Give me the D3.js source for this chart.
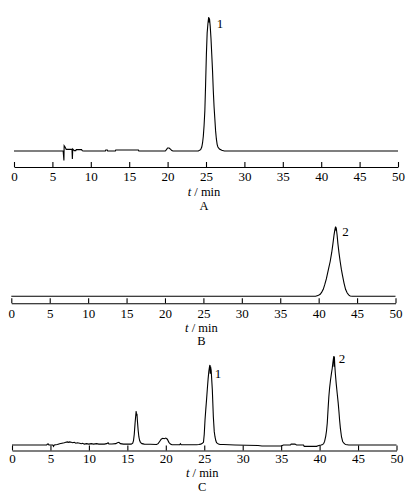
<!DOCTYPE html>
<html>
<head>
<meta charset="utf-8">
<script src="https://cdn.jsdelivr.net/npm/d3@7/dist/d3.min.js"></script>
<style>
  html, body { margin: 0; padding: 0; background: #fff; }
  svg { display: block; }
</style>
</head>
<body>
<svg id="chart" width="408" height="503"></svg>
<script>
// ---------------- DATA ----------------
const xTicks = [0, 5, 10, 15, 20, 25, 30, 35, 40, 45, 50];
const axisTitleItalic = "t";
const axisTitleRest = " / min";
const panelNames = ["A", "B", "C"];

// Chromatogram A (relative response, main peak = 100)
const timeA = [0, 6.4, 6.5, 6.53, 6.65, 6.8, 7.1, 7.55, 7.6, 7.65, 7.85, 8.05, 8.1, 8.8, 8.9, 9.1,
  11.9, 11.95, 12.15, 12.2, 13.2, 13.25, 16.2, 16.25, 19.7, 19.85, 20.0, 20.2, 20.4, 20.55, 20.7,
  24.0, 24.3, 24.45, 24.55, 24.65, 24.75, 24.85, 24.95, 25.05, 25.15, 25.25, 25.35, 25.4, 25.45,
  25.55, 25.65, 25.75, 25.85, 25.95, 26.05, 26.15, 26.25, 26.35, 26.45, 26.55, 26.75, 27.05, 27.4, 50];
const signalA = [0, 0, -7, 4, 3, 1.2, 1.2, 1.2, -6, 1.5, 0.3, 0.3, 1, 1, 0.2, 0,
  0, 0.7, 0.7, 0, 0, 0.7, 0.7, 0, 0, 1, 2.2, 2.2, 1.2, 0.3, 0,
  0, 1, 3, 6, 11, 19, 30, 50, 72, 88, 95, 100, 96, 99,
  93, 84, 72, 60, 45, 33, 24, 15, 9, 5, 3, 1.5, 0.5, 0, 0];

// Chromatogram B
const timeB = [0, 39.6, 39.9, 40.2, 40.4, 40.6, 40.8, 41.0, 41.1, 41.3, 41.5, 41.7, 41.85, 42.0, 42.1,
  42.2, 42.25, 42.3, 42.4, 42.5, 42.65, 42.8, 42.95, 43.1, 43.3, 43.5, 43.7, 43.9, 44.1, 44.4, 50];
const signalB = [0, 0, 1, 3, 6, 10, 17, 25, 30, 40, 50, 63, 75, 88, 95,
  100, 96, 97, 88, 76, 62, 50, 39, 30, 19, 10, 5, 2, 0.5, 0, 0];

// Chromatogram C
const timeC = [0, 4.5, 4.6, 4.75, 4.8, 5.3, 5.4, 5.5, 5.9, 6.2, 6.5, 6.8, 7.0, 7.2, 7.35, 7.5, 7.7, 7.9,
  8.1, 8.3, 8.5, 8.8, 9.0, 9.2, 9.4, 9.7, 10.0, 10.3, 10.6, 11.0, 11.3, 11.7, 12.0, 12.3, 12.5, 12.6,
  13.0, 13.5, 13.7, 13.9, 14.1, 14.5, 15.0, 15.5, 15.7, 15.8, 15.9, 16.0, 16.1, 16.15, 16.2, 16.25,
  16.3, 16.4, 16.5, 16.6, 16.7, 16.9, 17.2, 18.0, 18.8, 19.0, 19.2, 19.4, 19.6, 19.8, 20.0, 20.2,
  20.4, 20.6, 20.8, 21.8, 21.9, 22.0, 24.0, 24.3, 24.55, 24.75, 24.9, 25.0, 25.1, 25.2, 25.3, 25.4,
  25.5, 25.6, 25.7, 25.75, 25.78, 25.82, 25.9, 26.05, 26.18, 26.3, 26.4, 26.5, 26.6, 26.85, 27.05,
  27.5, 29.0, 32.0, 32.5, 35.0, 35.3, 36.2, 36.3, 36.8, 37.0, 37.9, 38.0, 39.6, 39.9, 40.2, 40.4,
  40.55, 40.65, 40.8, 40.9, 41.0, 41.1, 41.2, 41.3, 41.42, 41.55, 41.64, 41.72, 41.8, 41.86, 41.88,
  41.92, 41.97, 42.05, 42.16, 42.3, 42.42, 42.52, 42.6, 42.7, 42.85, 43.0, 43.16, 43.37, 43.8, 50];
const signalC = [0, 0, 1, 1, 0, 0, -1.5, 0, 0.5, 1.5, 2, 2.5, 3, 3.5, 3, 3.5, 3, 2.5,
  3, 2, 2.5, 2, 1.5, 2, 1, 1.5, 1, 1.5, 1, 1.5, 1, 1.2, 1, 1.5, 2.5, 1.2,
  1.2, 1.5, 2.5, 3, 1.5, 1, 1, 1, 2, 5, 12, 24, 34, 38, 33, 35,
  28, 17, 9, 5, 3, 1.5, 1, 0.8, 0.5, 1.5, 4, 6.5, 7.5, 7, 7.8, 6.5,
  3, 1, 0.3, 0.3, 1.5, 0.3, 0.3, 0.5, 1, 2, 3, 12, 28, 40, 51, 63,
  74, 83, 89, 90, 80, 88, 84, 62, 32, 15, 9, 5, 2.6, 1, 0.5,
  0.5, 0, -0.5, -1.2, -1.2, 0, 0, 1, 1, 0, 0, -1.5, -1.5, -0.5, 0, 0.5,
  1.9, 4, 10, 16, 25, 40, 54, 64, 73, 81, 86, 92, 97, 100, 88,
  99, 90, 80, 69, 57, 47, 37, 28, 19, 9, 4, 2, 0.5, 0, 0];

// Peak labels
const peakTimesA = [25.4];  const peakNamesA = ["1"];
const peakTimesB = [42.2];  const peakNamesB = ["2"];
const peakTimesC = [25.75, 41.86]; const peakNamesC = ["1", "2"];

// ---------------- LAYOUT ----------------
const FONT = "'Liberation Serif', 'Times New Roman', serif";
const svg = d3.select("#chart");

const panels = [
  { t: timeA, v: signalA, xr: [14, 398], y0: 151, y100: 17, axisY: 167, tickLabC: 177, titleC: 192, nameC: 205.5,
    peaks: peakTimesA, names: peakNamesA, lab: [{dx: 11, y: 24}] , name: panelNames[0]},
  { t: timeB, v: signalB, xr: [11.3, 395.5], y0: 296.3, y100: 226.7, axisY: 303.3, tickLabC: 314, titleC: 327.8, nameC: 340.5,
    peaks: peakTimesB, names: peakNamesB, lab: [{dx: 10, y: 231.5}], name: panelNames[1]},
  { t: timeC, v: signalC, xr: [12, 396.5], y0: 445, y100: 356, axisY: 450.5, tickLabC: 458.5, titleC: 472.8, nameC: 486.7,
    peaks: peakTimesC, names: peakNamesC, lab: [{dx: 8, y: 374}, {dx: 8, y: 359}], name: panelNames[2]}
];

panels.forEach(p => {
  const x = d3.scaleLinear().domain([0, 50]).range(p.xr);
  const y = d3.scaleLinear().domain([0, 100]).range([p.y0, p.y100]);
  const line = d3.line().x(d => x(d[0])).y(d => y(d[1]));

  svg.append("path")
    .datum(d3.zip(p.t, p.v))
    .attr("d", line)
    .attr("fill", "none")
    .attr("stroke", "#000")
    .attr("stroke-width", 1.1)
    .attr("stroke-linejoin", "miter");

  const ax = svg.append("g")
    .attr("transform", `translate(0,${p.axisY})`)
    .call(d3.axisBottom(x).tickValues(xTicks).tickSize(-5).tickSizeOuter(0).tickFormat(d3.format("d")));
  ax.select(".domain").attr("stroke", "#000").attr("stroke-width", 1.1);
  ax.selectAll(".tick line").attr("stroke", "#000").attr("stroke-width", 1.1);
  ax.selectAll(".tick text")
    .attr("y", p.tickLabC - p.axisY + 4.4)
    .attr("dy", null)
    .attr("font-family", FONT)
    .attr("font-size", 13)
    .attr("fill", "#000");

  const xm = (p.xr[0] + p.xr[1]) / 2 - 2;
  const tt = svg.append("text")
    .attr("x", xm).attr("y", p.titleC + 4)
    .attr("text-anchor", "middle")
    .attr("font-family", FONT).attr("font-size", 12.5).attr("fill", "#000");
  tt.append("tspan").attr("font-style", "italic").text(axisTitleItalic);
  tt.append("tspan").text(axisTitleRest);

  svg.append("text")
    .attr("x", xm).attr("y", p.nameC + 4.2)
    .attr("text-anchor", "middle")
    .attr("font-family", FONT).attr("font-size", 12.5).attr("fill", "#000")
    .text(p.name);

  p.peaks.forEach((pt, i) => {
    svg.append("text")
      .attr("x", x(pt) + p.lab[i].dx)
      .attr("y", p.lab[i].y + 4.4)
      .attr("text-anchor", "middle")
      .attr("font-family", FONT).attr("font-size", 13).attr("fill", "#000")
      .text(p.names[i]);
  });
});
</script>
</body>
</html>
